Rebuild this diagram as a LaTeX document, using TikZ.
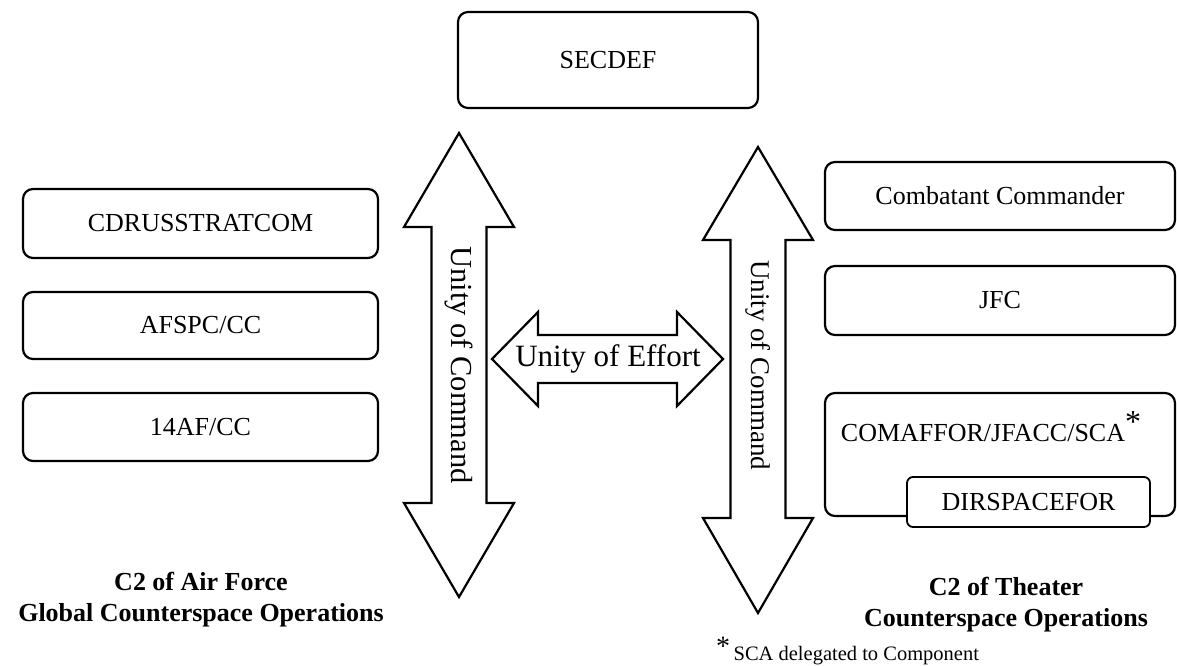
\documentclass[tikz,border=0pt]{standalone}
\usepackage{fontspec}
\setmainfont{Liberation Serif}
\begin{document}
\begin{tikzpicture}[x=1pt,y=-1pt,
  line join=miter,
  box/.style={draw, line width=2.2pt, rounded corners=10pt, inner sep=0pt,
    font=\fontsize{26}{30}\selectfont},
  smallbox/.style={draw, line width=1.8pt, rounded corners=6pt, inner sep=0pt, fill=white,
    font=\fontsize{26}{30}\selectfont},
  bigarrow/.style={draw, line width=2.2pt},
  lbl/.style={inner sep=0pt, font=\fontsize{26}{30}\selectfont},
  title/.style={inner sep=0pt, align=center, font=\fontsize{26}{31}\selectfont\bfseries}]
\useasboundingbox (0,0) rectangle (1177,665);

% top box
\node[box, minimum width=300pt, minimum height=96pt] (secdef) at (608,60) {SECDEF};

% left column
\node[box, minimum width=355pt, minimum height=69pt] (ussc) at (200.5,223.5) {CDRUSSTRATCOM};
\node[box, minimum width=355pt, minimum height=67pt] (afspc) at (200.5,325.5) {AFSPC/CC};
\node[box, minimum width=355pt, minimum height=68pt] (af14) at (200.5,427) {14AF/CC};

% right column
\node[box, minimum width=350pt, minimum height=68pt] (cocom) at (1000,196) {Combatant Commander};
\node[box, minimum width=350pt, minimum height=69pt] (jfc) at (1000,300.5) {JFC};
\node[box, minimum width=350pt, minimum height=123pt] (comaffor) at (1000,454.5) {};
\node[lbl] (comtext) at (991,427) {COMAFFOR/JFACC/SCA\raisebox{0.35em}{\fontsize{32}{32}\selectfont *}};
\node[smallbox, minimum width=243pt, minimum height=50pt] (dirspace) at (1028.5,502) {DIRSPACEFOR};

% left vertical double arrow
\path[bigarrow] (459,133) -- (514,227) -- (486.5,227) -- (486.5,503) -- (514,503)
  -- (459,597) -- (404,503) -- (431.5,503) -- (431.5,227) -- (404,227) -- cycle;
\node[lbl, rotate=-90, font=\fontsize{30.5}{32}\selectfont] (uoc1) at (459,365) {Unity of Command};

% right vertical double arrow
\path[bigarrow] (758,147) -- (813,240) -- (785.5,240) -- (785.5,518) -- (813,518)
  -- (758,613) -- (703,518) -- (730.5,518) -- (730.5,240) -- (703,240) -- cycle;
\node[lbl, rotate=-90, font=\fontsize{27}{30}\selectfont] (uoc2) at (758,365) {Unity of Command};

% horizontal double arrow
\path[bigarrow] (492,359) -- (538,312) -- (538,335) -- (677,335) -- (677,312)
  -- (723,359) -- (677,406) -- (677,383) -- (538,383) -- (538,406) -- cycle;
\node[lbl, font=\fontsize{31}{33}\selectfont] (uoe) at (608,359) {Unity of Effort};

% titles
\node[title] (ltitle) at (201,600) {C2 of Air Force\\Global Counterspace Operations};
\node[title] (rtitle) at (1006,605) {C2 of Theater\\Counterspace Operations};

% footnote
\node[inner sep=0pt, anchor=base west, font=\fontsize{20.5}{22}\selectfont] (foot) at (716,660)
  {\raisebox{0.2em}{\fontsize{28}{28}\selectfont *}\,SCA delegated to Component};
\end{tikzpicture}
\end{document}
